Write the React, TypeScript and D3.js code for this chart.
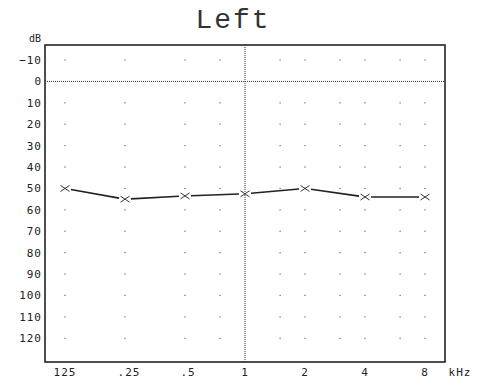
import React from "react";
import * as d3 from "d3";

const freqs = [125, 250, 500, 1000, 2000, 4000, 8000];
const thresholds = [50, 55, 53.5, 52.5, 50, 54, 54];
const gridFreqs = [125, 250, 500, 750, 1500, 2000, 3000, 4000, 6000, 8000];
const dbTicks = [-10, 0, 10, 20, 30, 40, 50, 60, 70, 80, 90, 100, 110, 120];
const xTickFreqs = [125, 250, 500, 1000, 2000, 4000, 8000];
const xTickLabels = ["125", ".25", ".5", "1", "2", "4", "8"];

const W = 481, H = 380;
const left = 45, right = 445, top = 45, bottom = 362;

export default function App() {
  const oct = 60;
  const x0 = 65;
  const x = d3.scaleLog().base(2).domain([125, 8000]).range([x0, x0 + 6 * oct]);
  const y = d3.scaleLinear().domain([-10, 120]).range([60, 338.3]);
  const font = "'DejaVu Sans Mono', 'Liberation Mono', monospace";
  const pts = freqs.map((f, i) => [x(f), y(thresholds[i])] as [number, number]);
  const gap = 6;
  const segs = pts.slice(1).map((p, i) => {
    const a = pts[i];
    const dx = p[0] - a[0], dy = p[1] - a[1];
    const len = Math.hypot(dx, dy);
    const ux = dx / len, uy = dy / len;
    return [a[0] + ux * gap, a[1] + uy * gap, p[0] - ux * gap, p[1] - uy * gap];
  });
  return (
    <svg width={W} height={H} style={{ position: "absolute", left: 0, top: 0, background: "#fff" }}>
      <text x={233} y={28} textAnchor="middle" fontFamily="'Liberation Mono', monospace" fontSize={28} letterSpacing={2} fill="#333">Left</text>
      <rect x={left} y={top} width={right - left} height={bottom - top} fill="none" stroke="#222" strokeWidth={1.6} />
      {/* dotted lines */}
      <line x1={left} x2={right} y1={y(0)} y2={y(0)} stroke="#333" strokeWidth={1} strokeDasharray="1,1" />
      <line x1={x(1000)} x2={x(1000)} y1={top} y2={bottom} stroke="#333" strokeWidth={1} strokeDasharray="1,1" />
      {/* grid dots */}
      {gridFreqs.map(f => dbTicks.filter(d => d !== 0).map(d => (
        <rect key={f + "-" + d} x={x(f) - 0.6} y={y(d) - 0.6} width={1.2} height={1.2} fill="#666" />
      )))}
      {/* y labels */}
      <text x={41} y={42} textAnchor="end" fontFamily={font} fontSize={10} fill="#222">dB</text>
      {dbTicks.map(d => (
        <text key={d} x={42} y={y(d) + 4} textAnchor="end" fontFamily={font} fontSize={11} letterSpacing={1} fill="#222">{d === -10 ? "\u221210" : d}</text>
      ))}
      {/* x labels */}
      {xTickFreqs.map((f, i) => (
        <text key={f} x={x(f) + (i === 1 ? 4 : i === 2 ? 3 : 0)} y={376} textAnchor="middle" fontFamily={font} fontSize={11} letterSpacing={1} fill="#222">{xTickLabels[i]}</text>
      ))}
      <text x={460} y={376} textAnchor="middle" fontFamily={font} fontSize={11} letterSpacing={1} fill="#222">kHz</text>
      {/* line */}
      {segs.map((s, i) => (
        <line key={i} x1={s[0]} y1={s[1]} x2={s[2]} y2={s[3]} stroke="#222" strokeWidth={1.6} />
      ))}
      {pts.map((p, i) => (
        <path key={i} d={`M${p[0] - 4.5},${p[1] - 3}L${p[0] + 4.5},${p[1] + 3}M${p[0] - 4.5},${p[1] + 3}L${p[0] + 4.5},${p[1] - 3}`} stroke="#333" strokeWidth={1} fill="none" />
      ))}
    </svg>
  );
}
